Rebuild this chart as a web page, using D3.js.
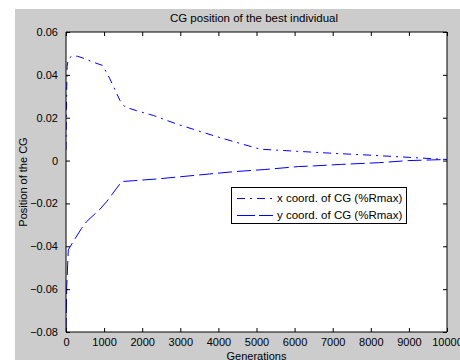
<!DOCTYPE html>
<html>
<head>
<meta charset="utf-8">
<script src="https://cdn.jsdelivr.net/npm/d3@7"></script>
<style>
  html, body { margin: 0; padding: 0; background: #fff; }
  svg { display: block; }
  text { font-family: "Liberation Sans", Arial, sans-serif; fill: #000; }
</style>
</head>
<body>
<svg id="chart" width="460" height="360"></svg>
<script>
// ---- data ----
const title = "CG position of the best individual";
const xLabel = "Generations";
const yLabel = "Position of the CG";
const xTicks = [0, 1000, 2000, 3000, 4000, 5000, 6000, 7000, 8000, 9000, 10000];
const yTicks = [-0.08, -0.06, -0.04, -0.02, 0, 0.02, 0.04, 0.06];
const seriesNames = ["x coord. of CG (%Rmax)", "y coord. of CG (%Rmax)"];

const gensX  = [0, 15, 30, 60, 150, 300, 500, 700, 960, 1150, 1415, 1550, 1850, 2300, 2900, 3450, 3950, 4550, 5100, 6100, 7000, 7900, 9000, 10000];
const xCoord = [0.005, 0.030, 0.044, 0.0475, 0.0487, 0.0487, 0.0475, 0.0460, 0.0444, 0.0382, 0.0281, 0.0250, 0.0233, 0.0210, 0.0171, 0.0140, 0.0112, 0.0081, 0.0053, 0.0043, 0.0034, 0.0026, 0.0015, 0.0005];

const gensY  = [0, 20, 60, 190, 410, 540, 890, 1065, 1330, 1460, 1770, 2380, 3500, 4400, 5200, 6100, 6500, 7200, 8200, 9000, 10000];
const yCoord = [-0.080, -0.0588, -0.0417, -0.0378, -0.0316, -0.0285, -0.0227, -0.0192, -0.0129, -0.0098, -0.0094, -0.0086, -0.0067, -0.0052, -0.0042, -0.0028, -0.0025, -0.0018, -0.0010, 0.0000, 0.0005];

// ---- layout ----
const svg = d3.select("#chart");
const L = 66, T = 32, R = 447, B = 332;
const x = d3.scaleLinear().domain([0, 10000]).range([L, R]);
const y = d3.scaleLinear().domain([-0.08, 0.06]).range([B, T]);
const blue = "#0000ff";

// figure background
svg.append("rect").attr("x", 15).attr("y", 9).attr("width", 445).attr("height", 351).attr("fill", "#cccccc");
// axes background
svg.append("rect").attr("x", L).attr("y", T).attr("width", R - L).attr("height", B - T).attr("fill", "#ffffff");

svg.append("clipPath").attr("id", "clip")
  .append("rect").attr("x", L).attr("y", T).attr("width", R - L).attr("height", B - T);

const line = d3.line().x(d => x(d[0])).y(d => y(d[1]));
const g = svg.append("g").attr("clip-path", "url(#clip)");
g.append("path").datum(gensX.map((v, i) => [v, xCoord[i]]))
  .attr("d", line).attr("fill", "none").attr("stroke", blue).attr("stroke-width", 1)
  .attr("stroke-dasharray", "8,5,2,5");
g.append("path").datum(gensY.map((v, i) => [v, yCoord[i]]))
  .attr("d", line).attr("fill", "none").attr("stroke", blue).attr("stroke-width", 1)
  .attr("stroke-dasharray", "14,5");

// axes (ticks inside, box on)
const tk = 4;
const fmtY = d => d === 0 ? "0" : d3.format(".2f")(d);
const bottomAxis = d3.axisBottom(x).tickValues(xTicks).tickSize(-tk).tickPadding(6).tickFormat(d3.format("d"));
const leftAxis = d3.axisLeft(y).tickValues(yTicks).tickSize(-tk).tickPadding(tk + 4).tickFormat(fmtY);
const topAxis = d3.axisTop(x).tickValues(xTicks).tickSize(-tk).tickFormat("");
const rightAxis = d3.axisRight(y).tickValues(yTicks).tickSize(-tk).tickFormat("");

function styleAxis(sel) {
  sel.selectAll("path").attr("stroke", "#000");
  sel.selectAll("line").attr("stroke", "#000");
  sel.selectAll("text").style("font-family", "'Liberation Sans', Arial, sans-serif").style("font-size", "11px").attr("fill", "#000");
}
svg.append("g").attr("transform", `translate(0,${B})`).call(bottomAxis).call(styleAxis).call(s => s.select(".domain").attr("d", `M${L},0H${R}`));
svg.append("g").attr("transform", `translate(${L},0)`).call(leftAxis).call(styleAxis).call(s => s.select(".domain").attr("d", `M0,${T}V${B}`));
svg.append("g").attr("transform", `translate(0,${T})`).call(topAxis).call(styleAxis).call(s => s.select(".domain").attr("d", `M${L},0H${R}`));
svg.append("g").attr("transform", `translate(${R},0)`).call(rightAxis).call(styleAxis).call(s => s.select(".domain").attr("d", `M0,${T}V${B}`));

// labels
svg.append("text").attr("x", 254).attr("y", 22).attr("text-anchor", "middle").style("font-size", "11.5px").text(title);
svg.append("text").attr("x", (L + R) / 2).attr("y", 359.5).attr("text-anchor", "middle").style("font-size", "11px").text(xLabel);
svg.append("text").attr("transform", `translate(27,${(T + B) / 2}) rotate(-90)`).attr("text-anchor", "middle").style("font-size", "11px").text(yLabel);

// legend
const lg = svg.append("g");
lg.append("rect").attr("x", 231.5).attr("y", 187.5).attr("width", 175).attr("height", 36)
  .attr("fill", "#fff").attr("stroke", "#000").attr("stroke-width", 1);
const dashes = ["8,5,2,5", "18,4"];
seriesNames.forEach((name, i) => {
  const cy = 198 + i * 17;
  lg.append("line").attr("x1", 237).attr("x2", 273).attr("y1", cy + 0.5).attr("y2", cy + 0.5)
    .attr("stroke", blue).attr("stroke-width", 1).attr("stroke-dasharray", dashes[i]);
  lg.append("text").attr("x", 277).attr("y", cy + 4).style("font-size", "11.5px").text(name);
});
</script>
</body>
</html>
